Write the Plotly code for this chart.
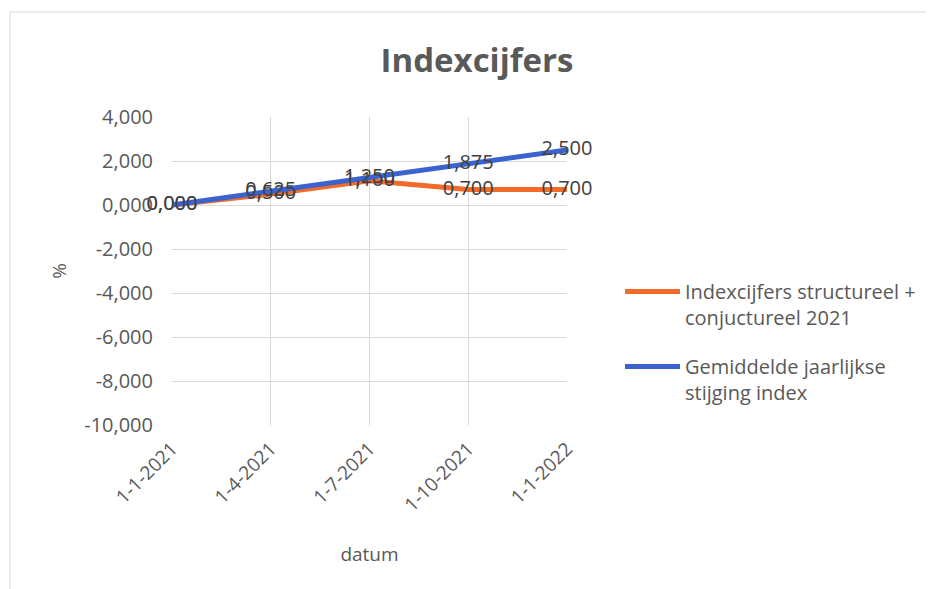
import plotly.graph_objects as go

categories = ["1-1-2021", "1-4-2021", "1-7-2021", "1-10-2021", "1-1-2022"]
structureel = [0.000, 0.500, 1.100, 0.700, 0.700]
gemiddeld = [0.000, 0.625, 1.250, 1.875, 2.500]
y_ticks = [4, 2, 0, -2, -4, -6, -8, -10]

def fmt(v):
    return f"{v:.3f}".replace(".", ",")

font_fam = "Open Sans, Liberation Sans, sans-serif"
txt_col = "#595959"

fig = go.Figure()
fig.add_trace(go.Scatter(
    x=categories, y=structureel, mode="lines+text",
    name="Indexcijfers structureel +<br>conjuctureel 2021", legendgroup="a",
    line=dict(color="#F26B2A", width=5),
    text=[fmt(v) for v in structureel], textposition="middle center",
    textfont=dict(size=20, color="#404040", family=font_fam),
    cliponaxis=False,
))
fig.add_trace(go.Scatter(
    x=categories, y=gemiddeld, mode="lines+text",
    name="Gemiddelde jaarlijkse<br>stijging index", legendgroup="b",
    line=dict(color="#3B63CF", width=5),
    text=[fmt(v) for v in gemiddeld], textposition="middle center",
    textfont=dict(size=20, color="#404040", family=font_fam),
    cliponaxis=False,
))

# page body has an 8px margin: target coordinates are shifted by it
OFF = 8
L, R, T, B = 172 - OFF, 567 - OFF, 117 - OFF, 425 - OFF
W, H = 934, 589
pw, ph = R - L, B - T

def px(x):
    return (x - OFF - L) / pw

def py(y):
    return (B - (y - OFF)) / ph

fig.add_shape(type="rect", xref="paper", yref="paper",
              x0=px(10), x1=px(960), y0=py(620), y1=py(12),
              line=dict(color="#d9d9d9", width=1), layer="below")

fig.update_layout(
    width=W, height=H,
    margin=dict(l=L, r=W - R, t=T, b=H - B, autoexpand=False),
    paper_bgcolor="white", plot_bgcolor="white",
    font=dict(family=font_fam, color=txt_col, size=20),
    title=dict(text="<b>Indexcijfers</b>", x=(477 - OFF) / W,
               xanchor="center", y=1 - (60 - OFF) / H, yanchor="middle",
               font=dict(size=33, color=txt_col, family=font_fam)),
    showlegend=True,
    legend=dict(x=px(620), y=py(272), xanchor="left", yanchor="top",
                valign="top",
                font=dict(size=20, color=txt_col), tracegroupgap=20,
                itemwidth=55, bgcolor="rgba(0,0,0,0)"),
    xaxis=dict(type="category", range=[0, 4], showgrid=True, gridcolor="#d9d9d9",
               gridwidth=1, zeroline=False, showline=False, tickangle=-45,
               ticks="", ticklabelstandoff=8, automargin=False,
               tickfont=dict(size=19),
               title=dict(text="datum", standoff=31, font=dict(size=19, color=txt_col))),
    yaxis=dict(range=[-10, 4], tickvals=y_ticks, ticktext=[fmt(v) for v in y_ticks],
               showgrid=True, gridcolor="#d9d9d9", gridwidth=1, zeroline=False,
               showline=False, ticks="", ticklabelstandoff=18, automargin=False,
               tickfont=dict(size=20),
               title=dict(text="%", standoff=12, font=dict(size=19, color=txt_col))),
)

fig.write_html("out.html")
